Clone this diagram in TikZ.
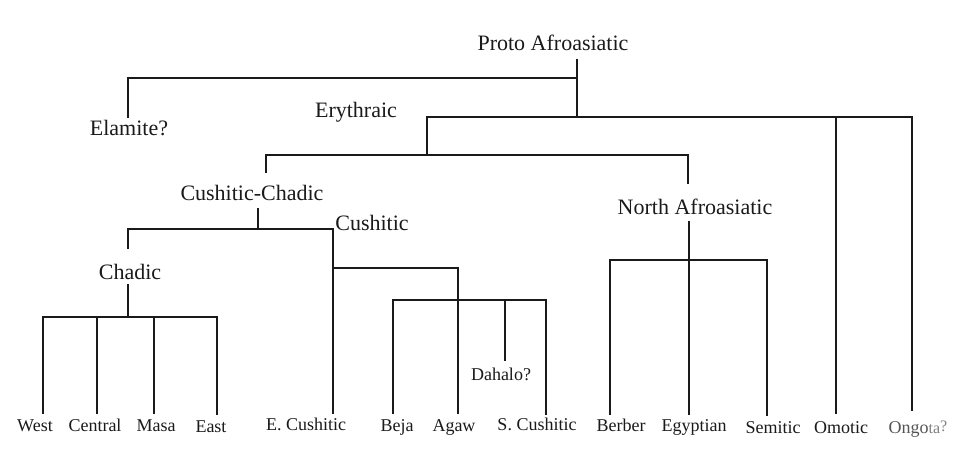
\documentclass[tikz,border=0pt]{standalone}
\usepackage{fontspec}
\setmainfont{Liberation Serif}
\definecolor{ink}{HTML}{1A1A1A}
\definecolor{faint}{HTML}{555555}
\tikzset{
  branch/.style={line width=1.7pt, draw=ink, line cap=rect},
  inner/.style={font=\fontsize{22}{26}\selectfont, text=ink, inner sep=0pt},
  leaf/.style={font=\fontsize{18}{21}\selectfont, text=ink, inner sep=0pt, text height=13pt, text depth=4pt},
}
\begin{document}
\begin{tikzpicture}[x=1pt,y=-1pt]
\useasboundingbox (0,0) rectangle (970,455);
\fill[white] (0,0) rectangle (970,455);

% internal labels
\node[inner] (proto) at (553,43) {Proto Afroasiatic};
\node[inner] (elamite) at (129,128) {Elamite?};
\node[inner] (eryth) at (356,112) {Erythraic};
\node[inner] (cushchad) at (252,193) {Cushitic-Chadic};
\node[inner] (north) at (695,207) {North Afroasiatic};
\node[inner] (cush) at (372,223) {Cushitic};
\node[inner] (chadic) at (130,272) {Chadic};
\node[font=\fontsize{18}{21}\selectfont, text=ink, inner sep=0pt] (dahalo) at (501,374) {Dahalo?};

% leaves
\node[leaf] (west) at (35,426.5) {West};
\node[leaf] (central) at (95,426.5) {Central};
\node[leaf] (masa) at (156,427) {Masa};
\node[leaf] (east) at (211,427.5) {East};
\node[leaf] (ecush) at (306,426) {E. Cushitic};
\node[leaf] (beja) at (397,426.5) {Beja};
\node[leaf] (agaw) at (454,426.5) {Agaw};
\node[leaf] (scush) at (537,426) {S. Cushitic};
\node[leaf] (berber) at (621,427) {Berber};
\node[leaf] (egypt) at (694,427) {Egyptian};
\node[leaf] (semitic) at (773,429) {Semitic};
\node[leaf] (omotic) at (841,429) {Omotic};
\node[leaf, text=faint] (ongota) at (918,428.5) {Ongo{\color{gray}\fontsize{16}{18}\selectfont ta\raisebox{2pt}{?}}};

% coordinates
\coordinate (protoS) at (577,60);
\coordinate (rootBar) at (577,78);
\coordinate (elamTop) at (128,78);
\coordinate (elamBot) at (128,117);
\coordinate (erythBar) at (577,117);
\coordinate (erythL) at (427,117);
\coordinate (omoTop) at (836,117);
\coordinate (ongTop) at (912,117);
\coordinate (omoBot) at (836,413);
\coordinate (ongBot) at (912,410);
\coordinate (ccBar) at (427,155);
\coordinate (ccL) at (266,155);
\coordinate (ccLb) at (266,172);
\coordinate (naTop) at (688,155);
\coordinate (naBot) at (688,183);
\coordinate (ccStem) at (258,209);
\coordinate (ccJ) at (258,229);
\coordinate (chL) at (128,229);
\coordinate (chLb) at (128,248);
\coordinate (cuTop) at (333,229);
\coordinate (cuBot) at (333,413);
\coordinate (chStem) at (128,285);
\coordinate (chJ) at (128,317);
\coordinate (wTop) at (43,317);
\coordinate (wBot) at (43,413);
\coordinate (cTop) at (97,317);
\coordinate (cBot) at (97,413);
\coordinate (mTop) at (154,317);
\coordinate (mBot) at (154,413);
\coordinate (eTop) at (217,317);
\coordinate (eBot) at (217,414);
\coordinate (cuJ) at (333,268);
\coordinate (agTop) at (458,268);
\coordinate (agBot) at (458,413);
\coordinate (bjTop) at (393,300);
\coordinate (bjBot) at (393,413);
\coordinate (agJ) at (458,300);
\coordinate (dhTop) at (505,300);
\coordinate (dhBot) at (505,360);
\coordinate (scTop) at (546,300);
\coordinate (scBot) at (546,414);
\coordinate (naStem) at (689,222);
\coordinate (naJ) at (689,260);
\coordinate (egBot) at (689,414);
\coordinate (bbTop) at (610,260);
\coordinate (bbBot) at (610,414);
\coordinate (smTop) at (767,260);
\coordinate (smBot) at (767,415);

% connectors
\draw[branch] (protoS) -- (erythBar);
\draw[branch] (elamBot) -- (elamTop) -- (rootBar);
\draw[branch] (erythL) -- (ongTop) -- (ongBot);
\draw[branch] (omoTop) -- (omoBot);
\draw[branch] (erythL) -- (ccBar);
\draw[branch] (ccLb) -- (ccL) -- (naTop) -- (naBot);
\draw[branch] (ccStem) -- (ccJ);
\draw[branch] (chLb) -- (chL) -- (cuTop) -- (cuBot);
\draw[branch] (chStem) -- (chJ);
\draw[branch] (wBot) -- (wTop) -- (eTop) -- (eBot);
\draw[branch] (cTop) -- (cBot);
\draw[branch] (mTop) -- (mBot);
\draw[branch] (cuJ) -- (agTop) -- (agBot);
\draw[branch] (bjBot) -- (bjTop) -- (scTop) -- (scBot);
\draw[branch] (dhTop) -- (dhBot);
\draw[branch] (naStem) -- (egBot);
\draw[branch] (bbBot) -- (bbTop) -- (smTop) -- (smBot);
\end{tikzpicture}
\end{document}
